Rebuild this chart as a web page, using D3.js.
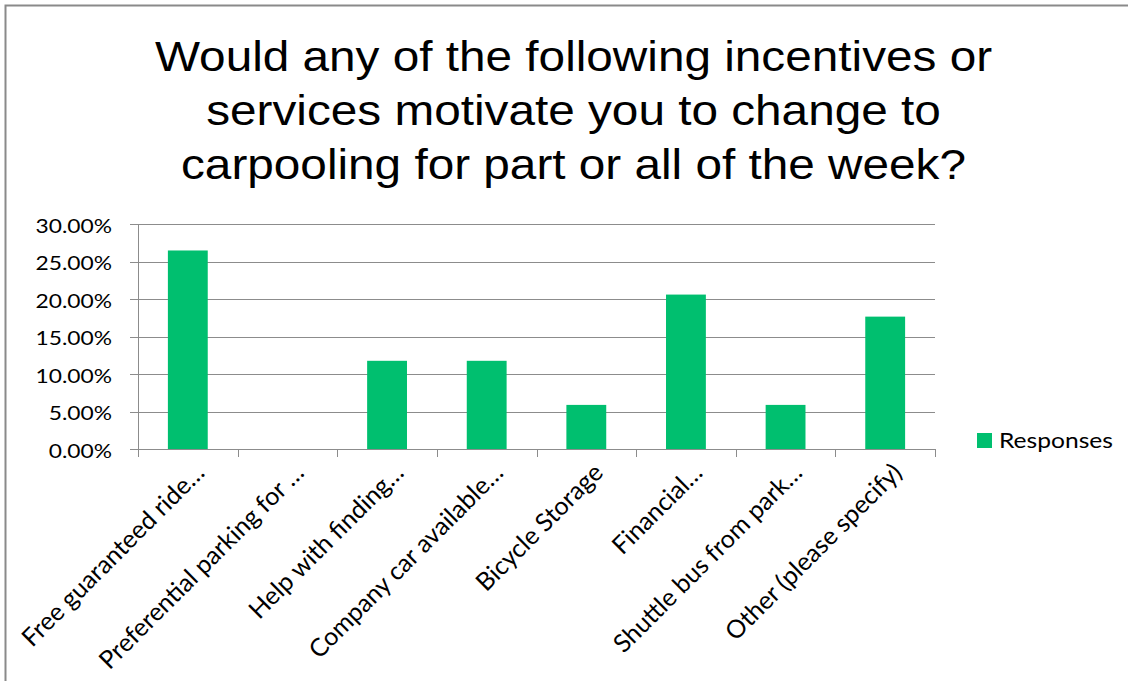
<!DOCTYPE html>
<html>
<head>
<meta charset="utf-8">
<script src="https://cdn.jsdelivr.net/npm/d3@7"></script>
<style>
  html, body { margin: 0; padding: 0; background: #fff; overflow: hidden; }
  svg { display: block; }
  .axis-text { font-family: Lato, "Open Sans", sans-serif; fill: #000; }
</style>
</head>
<body>
<svg id="chart" width="1128" height="681"></svg>
<script>
// Survey question and answer shares (percent of responses)
const titleLines = [
  "Would any of the following incentives or",
  "services motivate you to change to",
  "carpooling for part or all of the week?"
];
const categories = [
  "Free guaranteed ride…",
  "Preferential parking for …",
  "Help with finding…",
  "Company car available…",
  "Bicycle Storage",
  "Financial…",
  "Shuttle bus from park…",
  "Other (please specify)"
];
const responses = [26.47, 0, 11.76, 11.76, 5.88, 20.59, 5.88, 17.65];
const yTicks = [0, 5, 10, 15, 20, 25, 30];
const seriesName = "Responses";

const W = 1128, H = 681;
const plot = { left: 138, right: 935, top: 224, bottom: 449 };
const barColor = "#00bf6f";
const gridColor = "#8c8c8c";

const svg = d3.select("#chart");

// outer chart frame (runs past the right and bottom edges)
svg.append("path")
  .attr("d", `M${W},5.5 H5.5 V${H}`)
  .attr("fill", "none")
  .attr("stroke", "#8a8a8a").attr("stroke-width", 2);

// title
const title = svg.append("g");
title.selectAll("text").data(titleLines).join("text")
  .attr("transform", (d, i) => `translate(573.5,${71 + i * 54}) scale(1.11,1)`)
  .attr("text-anchor", "middle")
  .style("font-family", "'Liberation Sans', Arial, sans-serif")
  .style("font-size", "43px")
  .attr("fill", "#000")
  .text(d => d);

const x = d3.scaleBand()
  .domain(categories)
  .range([plot.left, plot.right])
  .paddingInner(0.6)
  .paddingOuter(0.3);

const y = d3.scaleLinear()
  .domain([0, 30])
  .range([plot.bottom, plot.top]);

// horizontal gridlines
svg.append("g").selectAll("line").data(yTicks).join("line")
  .attr("x1", plot.left - 8).attr("x2", plot.right)
  .attr("y1", d => Math.round(y(d)) + 0.5).attr("y2", d => Math.round(y(d)) + 0.5)
  .attr("stroke", gridColor).attr("stroke-width", 1);

// value axis labels
const yAxis = d3.axisLeft(y)
  .tickValues(yTicks)
  .tickSize(0)
  .tickFormat(d => d.toFixed(2) + "%");
const yg = svg.append("g").attr("transform", `translate(${plot.left},0)`).call(yAxis);
yg.select(".domain").remove();
yg.selectAll(".tick text")
  .attr("class", "axis-text")
  .attr("x", 0).attr("dy", null)
  .attr("transform", "translate(-26,8) scale(1.14,1)")
  .style("font-size", "20px")
  .attr("text-anchor", "end");

// value axis line
svg.append("line")
  .attr("x1", plot.left + 0.5).attr("x2", plot.left + 0.5)
  .attr("y1", plot.top).attr("y2", plot.bottom + 8)
  .attr("stroke", gridColor);

// bars
svg.append("g").selectAll("rect").data(responses).join("rect")
  .attr("x", (d, i) => x(categories[i]))
  .attr("y", d => y(d))
  .attr("width", x.bandwidth())
  .attr("height", d => y(0) - y(d))
  .attr("fill", barColor);

// category axis line and boundary ticks
svg.append("line")
  .attr("x1", plot.left).attr("x2", plot.right)
  .attr("y1", plot.bottom + 0.5).attr("y2", plot.bottom + 0.5)
  .attr("stroke", gridColor);
svg.append("g").selectAll("line").data(d3.range(categories.length + 1)).join("line")
  .attr("x1", i => Math.round(plot.left + i * x.step()) + 0.5)
  .attr("x2", i => Math.round(plot.left + i * x.step()) + 0.5)
  .attr("y1", plot.bottom).attr("y2", plot.bottom + 8)
  .attr("stroke", gridColor);

// rotated category labels
const xAxis = d3.axisBottom(x).tickSize(0);
const xg = svg.append("g").attr("transform", `translate(0,${plot.bottom})`).call(xAxis);
xg.select(".domain").remove();
xg.selectAll(".tick text")
  .attr("class", "axis-text")
  .attr("x", 0).attr("y", 0)
  .attr("dy", "0.35em")
  .attr("transform", "translate(12,19) rotate(-45)")
  .style("font-size", "25px")
  .attr("text-anchor", "end");

// legend
const legend = svg.append("g").attr("transform", "translate(977,433)");
legend.append("rect").attr("width", 15).attr("height", 15).attr("fill", barColor);
legend.append("text")
  .attr("class", "axis-text")
  .attr("transform", "translate(22,15) scale(1.2,1)")
  .style("font-size", "20.5px")
  .text(seriesName);
</script>
</body>
</html>
